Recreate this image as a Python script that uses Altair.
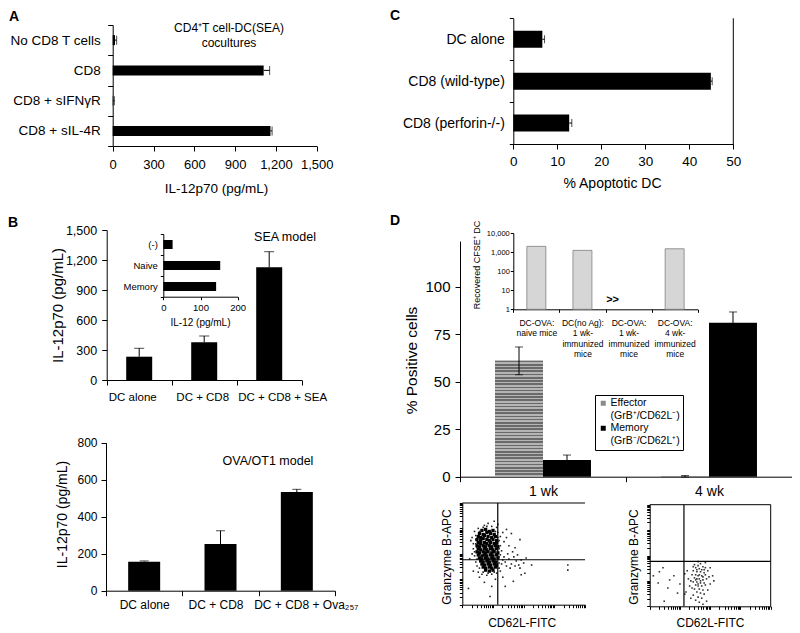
import altair as alt
import pandas as pd

FONT = "Liberation Sans"
W, H = 784, 623
M = 8  # page margin


def cx(v):
    return v - M


def cy(v):
    return v - M


# ---------------- data ----------------
# Panel A
a_cats = ["No CD8 T cells", "CD8", "CD8 + sIFNγR", "CD8 + sIL-4R"]
a_vals = [17, 1110, 3, 1160]
a_errs = [12, 44, 9, 12]
a_ticks = [0, 300, 600, 900, 1200, 1500]

# Panel B, SEA model
b1_cats = ["DC alone", "DC + CD8", "DC + CD8 + SEA"]
b1_vals = [233, 377, 1127]
b1_errs = [84, 63, 156]
b1_ticks = [0, 300, 600, 900, 1200, 1500]

# Panel B inset
bi_cats = ["(-)", "Naive", "Memory"]
bi_vals = [25, 153, 142]
bi_ticks = [0, 100, 200]

# Panel B, OVA/OT1 model
b2_cats = ["DC alone", "DC + CD8", "DC + CD8 + Ova₂₅₇"]
b2_vals = [157, 252, 533]
b2_errs = [4, 72, 15]
b2_ticks = [0, 200, 400, 600, 800]

# Panel C
c_cats = ["DC alone", "CD8 (wild-type)", "CD8 (perforin-/-)"]
c_vals = [6.6, 44.9, 12.7]
c_errs = [0.5, 0.3, 0.6]
c_ticks = [0, 10, 20, 30, 40, 50]

# Panel D bars
d_weeks = ["1 wk", "4 wk"]
d_types = ["Effector", "Memory"]
d_week_col = ["1 wk", "1 wk", "4 wk", "4 wk"]
d_type_col = ["Effector", "Memory", "Effector", "Memory"]
d_vals = [61, 8.8, 0.2, 81]
d_errs = [7.3, 2.6, 0.4, 5.7]
d_ticks = [0, 25, 50, 75, 100]

# Panel D inset (log scale)
di_cats = ["DC-OVA:|naive mice", "DC(no Ag):|1 wk-|immunized|mice",
           "DC-OVA:|1 wk-|immunized|mice", "DC-OVA:|4 wk-|immunized|mice"]
di_vals = [1990, 1230, None, 1490]
di_ticks = [1, 10, 100, 1000, 10000]

# Flow cytometry dot plots, positions in % of axis length
s1_core = [
    (16, 73), (19, 74), (22, 72), (25, 73),
    (14, 70), (17, 69), (20, 71), (23, 70), (26, 69),
    (13, 67), (15, 66), (18, 68), (21, 67), (24, 66), (27, 67),
    (12, 64), (15, 63), (17, 65), (20, 64), (22, 63), (25, 64), (28, 63),
    (13, 61), (15, 60), (18, 61), (20, 60), (23, 61), (26, 60), (28, 61),
    (12, 58), (14, 57), (17, 58), (19, 57), (22, 58), (24, 57), (27, 58), (29, 57),
    (13, 55), (15, 54), (18, 55), (20, 54), (23, 55), (25, 54), (28, 55),
    (12, 52), (14, 51), (17, 52), (19, 51), (21, 52), (24, 51), (26, 52), (29, 51),
    (13, 49), (16, 48), (18, 49), (20, 48), (23, 49), (25, 48), (28, 49),
    (14, 46), (16, 45), (19, 46), (21, 45), (24, 46), (26, 45), (29, 46),
    (15, 43), (17, 42), (20, 43), (22, 42), (25, 43), (27, 42),
    (16, 40), (18, 39), (21, 40), (23, 39), (26, 40), (28, 39),
    (17, 37), (19, 36), (22, 37), (24, 36), (27, 37),
    (19, 34), (22, 33), (25, 34),
]
s1_halo = [
    (10, 72), (11, 60), (9, 55), (10, 48), (11, 42), (12, 38), (8, 50), (13, 32),
    (16, 30), (20, 29), (24, 30), (28, 31), (31, 33), (30, 36), (32, 40), (33, 44),
    (31, 49), (32, 53), (31, 58), (30, 63), (31, 67), (29, 71), (28, 76), (24, 77),
    (20, 77), (17, 76), (13, 75), (11, 68), (7, 63), (6, 45),
    (35, 42), (38, 45), (40, 40), (42, 47), (44, 43), (46, 39), (48, 44), (50, 41),
    (52, 46), (36, 38), (39, 36), (43, 38), (47, 36), (34, 47), (37, 50), (41, 52),
    (45, 49), (56.5, 39), (86, 39), (86, 34),
    (5, 16), (22.6, 8), (24, 18), (35, 18), (41.6, 23), (48, 29.5), (51, 31), (18, 22),
    (27, 25), (14, 27), (33, 27), (9, 33),
    (21, 80), (29, 79), (36, 74), (47, 64), (40, 70), (34, 62), (38, 58), (43, 56),
    (36, 66), (33, 71), (8, 66), (26, 82),
    (11, 64), (10, 52), (12, 45), (14, 36), (17, 32), (21, 31), (26, 32), (30, 41),
    (30, 47), (30, 55), (29, 66), (27, 72), (18, 78), (14, 72), (12, 56), (9, 60),
]
s2_pts = [
    (37, 41), (40, 40), (42, 42), (44, 39), (38, 38), (41, 37), (43, 36), (46, 38),
    (36, 35), (39, 34), (42, 34), (45, 33), (48, 35), (35, 31), (38, 31), (40, 30),
    (43, 30), (46, 31), (49, 29), (37, 28), (39, 27), (41, 27), (44, 26), (47, 27),
    (34, 25), (36, 24), (39, 24), (42, 23), (45, 23), (38, 21), (40, 20), (43, 20),
    (46, 21), (50, 22), (35, 18), (37, 17), (41, 17), (44, 16), (39, 14), (42, 13),
    (45, 12), (36, 11), (40, 9), (43, 8), (38, 6), (41, 4), (47, 5), (33, 20),
    (32, 27), (52, 30), (48, 16), (30, 14), (34, 8), (46, 43), (40, 44), (50, 38),
    (44, 29), (41, 31), (38, 26), (42, 25), (40, 22), (39, 36), (36, 39), (45, 36),
    (53, 25), (31, 35), (44, 2),
    (3, 30), (7, 23), (11, 38), (15, 18), (23, 13), (16.5, 26), (8, 34), (12, 5),
    (20, 30), (25, 22), (29, 32), (29, 12),
]
s1_gate = (28.9, 44.2)
s2_gate = (28.3, 44.3)

BLACK = "black"
COMMA = "format(datum.value, ',')"

# horizontal stripes of the effector bars (style only)
N_STRIPES = 36
stripe_stops = []
for i in range(N_STRIPES):
    o0 = i / N_STRIPES
    o1 = (i + 0.5) / N_STRIPES
    stripe_stops += [{"offset": o0, "color": "#6a6a6a"}, {"offset": o1, "color": "#6a6a6a"},
                     {"offset": o1, "color": "#b4b4b4"},
                     {"offset": (i + 1) / N_STRIPES, "color": "#b4b4b4"}]
STRIPES = {"gradient": "linear", "x1": 0, "y1": 0, "x2": 0, "y2": 1, "stops": stripe_stops}


# ---------------- helpers ----------------
def ax_x(y_ref, **kw):
    base = dict(orient="bottom", offset=(y_ref - M) - H, labelOverlap=False, labelFlush=False)
    base.update(kw)
    return alt.Axis(**base)


def ax_y(x_ref, **kw):
    base = dict(orient="left", offset=-(x_ref - M), labelOverlap=False)
    base.update(kw)
    return alt.Axis(**base)


def shift(pairs):
    return {"condition": [{"test": f"datum.value == '{k}'", "value": v} for k, v in pairs],
            "value": 0}


def note(txt, x, y, size, weight="normal", align="center"):
    return alt.Chart(pd.DataFrame({"t": [txt]})).mark_text(
        font=FONT, fontSize=size, fontWeight=weight, align=align,
        baseline="middle", color=BLACK
    ).encode(text="t:N", x=alt.value(cx(x)), y=alt.value(cy(y)))


# ---------------- panel A ----------------
a_df = pd.DataFrame({"cat": a_cats, "val": a_vals,
                     "hi": [v + e for v, e in zip(a_vals, a_errs)]})
a_xs = alt.Scale(domain=[0, 1500], range=[cx(112.7), cx(316.7)], nice=False)
a_ys = alt.Scale(domain=a_cats, range=[cy(25), cy(146)], paddingInner=0, paddingOuter=0)
A = alt.layer(
    alt.Chart(a_df).mark_bar(color=BLACK, size=10).encode(
        x=alt.X("val:Q", scale=a_xs, axis=ax_x(
            146, values=a_ticks, labelExpr=COMMA, tickSize=5, labelPadding=7, labelFontSize=13,
            title="IL-12p70 (pg/mL)", titleFontSize=13.5, titleX=cx(216), titleY=42,
            titleBaseline="middle")),
        y=alt.Y("cat:N", scale=a_ys, axis=ax_y(
            112.7, tickBand="extent", tickSize=5, labelPadding=7.5, labelFontSize=13.5,
            title=None)),
    ),
    alt.Chart(a_df).mark_rule(color=BLACK).encode(x="val:Q", x2="hi:Q", y="cat:N"),
    alt.Chart(a_df).mark_tick(color=BLACK, thickness=1, size=9).encode(x="hi:Q", y="cat:N"),
)

# ---------------- panel B (SEA) ----------------
b1_df = pd.DataFrame({"cat": b1_cats, "val": b1_vals,
                      "hi": [v + e for v, e in zip(b1_vals, b1_errs)]})
b1_xs = alt.Scale(domain=b1_cats, range=[cx(106.7), cx(301.7)], paddingInner=0, paddingOuter=0)
b1_ys = alt.Scale(domain=[0, 1500], range=[cy(380), cy(230)], nice=False)
B1 = alt.layer(
    alt.Chart(b1_df).mark_bar(color=BLACK, size=26).encode(
        x=alt.X("cat:N", scale=b1_xs, axis=ax_x(
            380, tickBand="extent", tickSize=5, labelPadding=6, labelFontSize=11.5,
            labelAngle=0, title=None,
            labelOffset=shift([(b1_cats[0], -7), (b1_cats[1], -2), (b1_cats[2], 13)]))),
        y=alt.Y("val:Q", scale=b1_ys, axis=ax_y(
            106.7, values=b1_ticks, labelExpr=COMMA, tickSize=5, labelPadding=5,
            labelFontSize=12.5,
            title="IL-12p70 (pg/mL)", titleFontSize=15, titleX=58 - 106.7, titleY=cy(305),
            titleBaseline="middle")),
    ),
    alt.Chart(b1_df).mark_rule(color=BLACK).encode(x="cat:N", y="val:Q", y2="hi:Q"),
    alt.Chart(b1_df).mark_tick(color=BLACK, thickness=1, size=10).encode(x="cat:N", y="hi:Q"),
)

bi_df = pd.DataFrame({"cat": bi_cats, "val": bi_vals})
BI = alt.Chart(bi_df).mark_bar(color=BLACK, size=9).encode(
    x=alt.X("val:Q", scale=alt.Scale(domain=[0, 200], range=[cx(163.3), cx(237.7)], nice=False),
            axis=ax_x(296.7, values=bi_ticks, tickSize=3, labelPadding=3, labelFontSize=9.5,
                      title="IL-12 (pg/mL)", titleFontSize=10, titleX=cx(200), titleY=26,
                      titleBaseline="middle")),
    y=alt.Y("cat:N", scale=alt.Scale(domain=bi_cats, range=[cy(234), cy(297)],
                                     paddingInner=0, paddingOuter=0),
            axis=ax_y(163.3, tickBand="extent", tickSize=3, labelPadding=3, labelFontSize=9.5,
                      title=None)),
)

# ---------------- panel B (OVA) ----------------
b2_df = pd.DataFrame({"cat": b2_cats, "val": b2_vals,
                      "hi": [v + e for v, e in zip(b2_vals, b2_errs)]})
b2_xs = alt.Scale(domain=b2_cats, range=[cx(106), cx(335)], paddingInner=0, paddingOuter=0)
b2_ys = alt.Scale(domain=[0, 800], range=[cy(590.7), cy(442.7)], nice=False)
B2 = alt.layer(
    alt.Chart(b2_df).mark_bar(color=BLACK, size=32).encode(
        x=alt.X("cat:N", scale=b2_xs, axis=ax_x(
            590.7, tickBand="extent", tickSize=5, labelPadding=4, labelFontSize=12,
            labelAngle=0, title=None,
            labelOffset=shift([(b2_cats[1], -5), (b2_cats[2], 9)]))),
        y=alt.Y("val:Q", scale=b2_ys, axis=ax_y(
            106, values=b2_ticks, tickSize=5, labelPadding=4, labelFontSize=12,
            title="IL-12p70 (pg/mL)", titleFontSize=14, titleX=-44, titleY=cy(514),
            titleBaseline="middle")),
    ),
    alt.Chart(b2_df).mark_rule(color=BLACK).encode(x="cat:N", y="val:Q", y2="hi:Q"),
    alt.Chart(b2_df).mark_tick(color=BLACK, thickness=1, size=9).encode(x="cat:N", y="hi:Q"),
)

# ---------------- panel C ----------------
c_df = pd.DataFrame({"cat": c_cats, "val": c_vals,
                     "hi": [v + e for v, e in zip(c_vals, c_errs)]})
c_xs = alt.Scale(domain=[0, 50], range=[cx(513.3), cx(733.3)], nice=False)
c_ys = alt.Scale(domain=c_cats, range=[cy(18.3), cy(144)], paddingInner=0, paddingOuter=0)
C = alt.layer(
    alt.Chart(c_df).mark_bar(color=BLACK, size=17).encode(
        x=alt.X("val:Q", scale=c_xs, axis=ax_x(
            144, values=c_ticks, tickSize=5, labelPadding=5, labelFontSize=13.5,
            title="% Apoptotic DC", titleFontSize=14, titleX=cx(612), titleY=39,
            titleBaseline="middle")),
        y=alt.Y("cat:N", scale=c_ys, axis=ax_y(
            513.3, tickBand="extent", tickSize=4, labelPadding=5, labelFontSize=14,
            title=None)),
    ),
    alt.Chart(c_df).mark_rule(color=BLACK).encode(x="val:Q", x2="hi:Q", y="cat:N"),
    alt.Chart(c_df).mark_tick(color=BLACK, thickness=1, size=8).encode(x="hi:Q", y="cat:N"),
    alt.Chart(pd.DataFrame({"v": [0]})).mark_rule(color=BLACK).encode(
        x=alt.datum(c_ticks[-1]), y=alt.value(cy(18.3)), y2=alt.value(cy(144))),
)

# ---------------- panel D bars ----------------
d_df = pd.DataFrame({
    "week": d_week_col, "type": d_type_col, "val": d_vals,
    "lo": [v - e for v, e in zip(d_vals, d_errs)],
    "hi": [v + e for v, e in zip(d_vals, d_errs)],
})
d_xs = alt.Scale(domain=d_weeks, range=[cx(460), cx(792)], paddingInner=0, paddingOuter=0)
d_os = alt.Scale(domain=d_types, paddingInner=0, paddingOuter=0.73)
d_ys = alt.Scale(domain=[0, 124], range=[cy(476.7), cy(476.7 - 124 * 1.9)], nice=False)
legend_expr = ("datum.label == 'Effector' ? ['Effector', '(GrB⁺/CD62L⁻)'] : "
               "['Memory', '(GrB⁻/CD62L⁺)']")
D = alt.layer(
    alt.Chart(d_df).mark_bar().encode(
        x=alt.X("week:N", scale=d_xs, axis=ax_x(
            476.7, tickBand="extent", tickSize=5, labelPadding=3, labelFontSize=14,
            labelAngle=0, title=None)),
        xOffset=alt.XOffset("type:N", scale=d_os),
        y=alt.Y("val:Q", scale=d_ys, axis=ax_y(
            460, values=d_ticks, tickSize=5, labelPadding=5, labelFontSize=15,
            title="% Positive cells", titleFontSize=15.5, titleX=-48.3, titleY=cy(360),
            titleBaseline="middle")),
        color=alt.Color("type:N", scale=alt.Scale(domain=d_types, range=["#8a8a8a", BLACK]),
                        legend=alt.Legend(
                            title=None, orient="none", legendX=cx(595), legendY=cy(395),
                            strokeColor=BLACK, fillColor="white", padding=3,
                            symbolType="square", symbolSize=25, labelFontSize=10.5,
                            labelFont=FONT, labelColor=BLACK, labelExpr=legend_expr,
                            labelLimit=200, rowPadding=1, labelOffset=2)),
    ),
    alt.Chart(d_df).transform_filter(f"datum.type == '{d_types[0]}'").mark_bar(
        color=STRIPES).encode(x="week:N", xOffset="type:N", y="val:Q"),
    alt.Chart(d_df).mark_rule(color=BLACK).encode(
        x="week:N", xOffset="type:N", y="lo:Q", y2="hi:Q"),
    alt.Chart(d_df).mark_tick(color=BLACK, thickness=1, size=8).encode(
        x="week:N", xOffset="type:N", y="hi:Q"),
    alt.Chart(d_df).mark_tick(color=BLACK, thickness=1, size=8).encode(
        x="week:N", xOffset="type:N", y="lo:Q"),
)

# ---------------- panel D inset ----------------
di_df = pd.DataFrame({"cat": [c for c, v in zip(di_cats, di_vals) if v is not None],
                      "val": [v for v in di_vals if v is not None]})
di_xs = alt.Scale(domain=di_cats, range=[cx(513.3), cx(697.7)], paddingInner=0, paddingOuter=0)
di_ys = alt.Scale(type="log", domain=[1, 10000], range=[cy(309.3), cy(233)], nice=False)
DI = alt.layer(
    alt.Chart(di_df).mark_bar(size=19, color="#d6d6d6", stroke="#808080", strokeWidth=0.8).encode(
        x=alt.X("cat:N", scale=di_xs, axis=ax_x(
            309.3, tickBand="extent", tickSize=3, labelPadding=6, labelFontSize=8.5,
            labelExpr="split(datum.label, '|')", labelLineHeight=10.5, labelBaseline="top",
            labelAngle=0, title=None)),
        y=alt.Y("val:Q", scale=di_ys, axis=ax_y(
            513.3, values=di_ticks, format=",", tickSize=3, labelPadding=1, labelFontSize=7.5,
            title="Recovered CFSE⁺ DC", titleFontSize=9, titleX=-37.3, titleY=cy(264.5),
            titleBaseline="middle")),
        y2=alt.datum(1),
    ),
    alt.Chart(pd.DataFrame({"cat": [di_cats[2]], "t": [">>"]})).mark_text(
        font=FONT, fontSize=11, fontWeight="bold", dx=-16, color=BLACK).encode(
        x="cat:N", y=alt.datum(3), text="t:N"),
)


# ---------------- dot plots ----------------
def dot_plot(core, halo, gate, x0, x1, y0, y1, right_border, ytitle_x, xtitle_x, core_size,
             halo_color):
    xs = alt.Scale(domain=[0, 100], range=[cx(x0), cx(x1)], nice=False, zero=False)
    ys = alt.Scale(domain=[0, 100], range=[cy(y1), cy(y0)], nice=False, zero=False)
    layers = []
    if core:
        layers.append(alt.Chart(pd.DataFrame(core, columns=["x", "y"])).mark_square(
            size=core_size, color=BLACK, opacity=1).encode(
            x=alt.X("x:Q", scale=xs, axis=None), y=alt.Y("y:Q", scale=ys, axis=None)))
    layers.append(alt.Chart(pd.DataFrame(halo, columns=["x", "y"])).mark_square(
        size=2.5, color=halo_color, opacity=1).encode(
        x=alt.X("x:Q", scale=xs, axis=None), y=alt.Y("y:Q", scale=ys, axis=None)))
    one = pd.DataFrame({"v": [0]})
    layers.append(alt.Chart(one).mark_rule(color=BLACK, strokeWidth=1.2).encode(
        x=alt.datum(gate[0]), y=alt.datum(0), y2=alt.datum(100)))
    layers.append(alt.Chart(one).mark_rule(color=BLACK, strokeWidth=1.2).encode(
        y=alt.datum(gate[1]), x=alt.datum(0), x2=alt.datum(100)))
    layers.append(alt.Chart(one).mark_rule(color=BLACK).encode(
        y=alt.datum(100), x=alt.datum(0), x2=alt.datum(100)))
    if right_border:
        layers.append(alt.Chart(one).mark_rule(color=BLACK).encode(
            x=alt.datum(100), y=alt.datum(0), y2=alt.datum(100)))
    dots = alt.layer(*layers)
    axes = alt.Chart(pd.DataFrame({"v": [1]})).mark_point(opacity=0).encode(
        x=alt.X("v:Q", scale=alt.Scale(type="log", domain=[1, 10000], range=[cx(x0), cx(x1)],
                                       nice=False),
                axis=ax_x(y1, tickCount=40, labels=False, tickSize=3, title="CD62L-FITC",
                          titleFontSize=12, titleX=cx(xtitle_x), titleY=622 - y1,
                          titleBaseline="middle")),
        y=alt.Y("v:Q", scale=alt.Scale(type="log", domain=[1, 10000], range=[cy(y1), cy(y0)],
                                       nice=False),
                axis=ax_y(x0, tickCount=40, labels=False, tickSize=3, title="Granzyme B-APC",
                          titleFontSize=12, titleX=ytitle_x - x0, titleY=cy(556.5),
                          titleBaseline="middle")),
    )
    return [dots, axes]


S1 = dot_plot(s1_core, s1_halo, s1_gate, 462.3, 585, 503, 604.7, False, 446.7, 521.7, 11, "#222")
S2 = dot_plot([], s2_pts, s2_gate, 649.7, 770.7, 504.7, 606.3, True, 633, 710, 7, "#333")

# ---------------- annotations ----------------
notes = [
    note("A", 9, 16.5, 14, "bold", "left"),
    note("B", 8, 223, 14, "bold", "left"),
    note("C", 390, 16, 14, "bold", "left"),
    note("D", 390, 221, 14, "bold", "left"),
    note("CD4⁺T cell-DC(SEA)", 229, 28, 12),
    note("cocultures", 229, 43, 12),
    note("SEA model", 285, 237, 12.5),
    note("OVA/OT1 model", 268, 461, 12.5),
]

chart = alt.layer(
    A, B1, BI, B2, C, D, DI, *S1, *S2, *notes
).resolve_scale(
    x="independent", y="independent", color="independent"
).properties(
    width=W, height=H, padding=0, autosize=alt.AutoSizeParams(type="none")
).configure(
    font=FONT
).configure_view(
    stroke=None
).configure_axis(
    grid=False, domainColor=BLACK, tickColor=BLACK, labelColor=BLACK, titleColor=BLACK,
    labelFont=FONT, titleFont=FONT, titleFontWeight="normal", domainWidth=1, tickWidth=1
)

chart.save("out.html", embed_options={"renderer": "svg", "actions": False})
